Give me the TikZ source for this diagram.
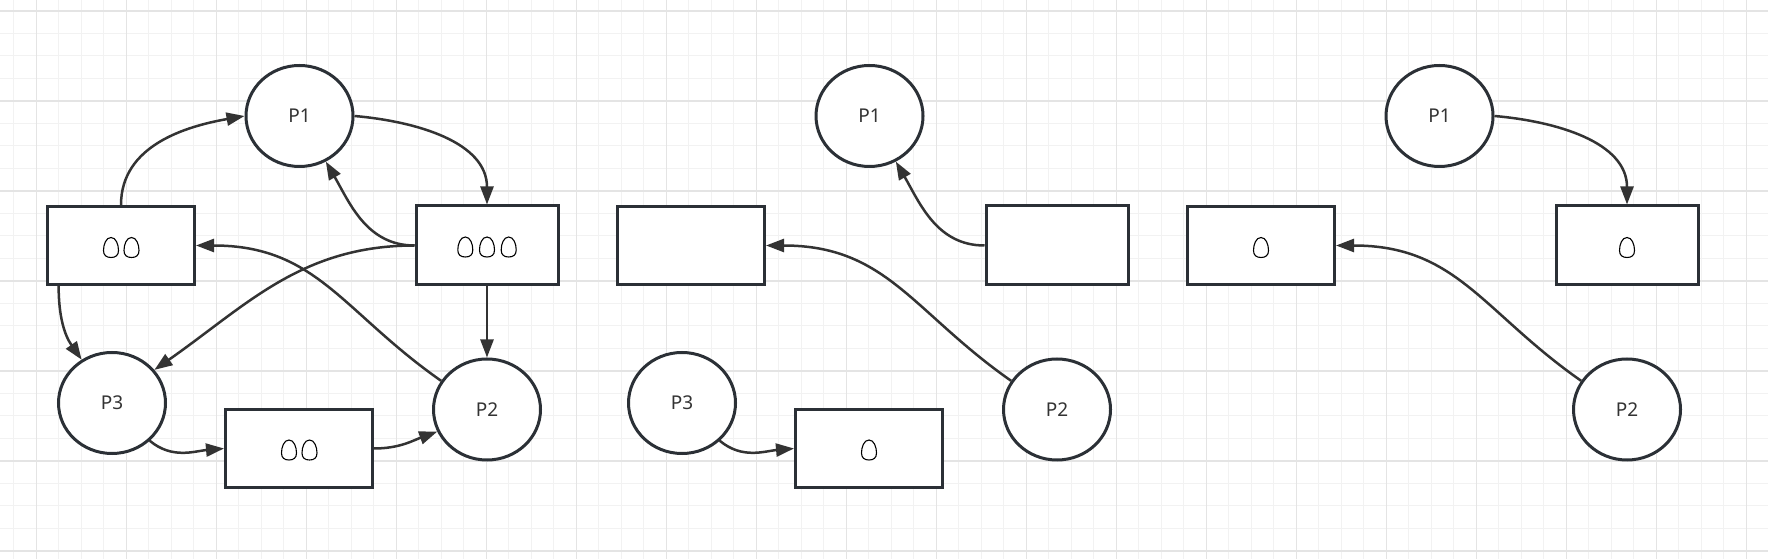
\documentclass[tikz,border=0pt]{standalone}
\usepackage{fontspec}
\setmainfont{Noto Sans}
\usetikzlibrary{arrows.meta,shapes.geometric}
\definecolor{gridminor}{HTML}{F2F2F2}
\definecolor{gridmajor}{HTML}{E4E4E4}
\definecolor{strokec}{HTML}{2B3036}
\definecolor{connc}{HTML}{333333}
\definecolor{txtc}{HTML}{333333}
\tikzset{
  placenode/.style={ellipse, draw=strokec, line width=3pt, fill=white,
    minimum width=107pt, minimum height=101pt, inner sep=0pt, text=txtc,
    font=\fontsize{19}{22}\selectfont},
  transnode/.style={rectangle, draw=strokec, line width=3pt, fill=white,
    minimum width=147pt, minimum height=78pt, inner sep=0pt},
  transrnode/.style={transnode, minimum width=142pt, minimum height=79pt},
  arcline/.style={draw=connc, line width=2.5pt, -{Triangle[length=18pt,width=13pt]}},
  minorline/.style={draw=gridminor, line width=1pt},
  majorline/.style={draw=gridmajor, line width=1.6pt},
  egg/.pic={
    \draw[line width=1.1pt, fill=white] (0,10) .. controls (5,10) and (7.5,3) .. (7.5,-3)
      .. controls (7.5,-8) and (4.5,-10) .. (0,-10)
      .. controls (-4.5,-10) and (-7.5,-8) .. (-7.5,-3)
      .. controls (-7.5,3) and (-5,10) .. (0,10) -- cycle;
  }
}
\begin{document}
\begin{tikzpicture}[x=1pt,y=1pt]
\useasboundingbox (0,0) rectangle (1768,559);
\fill[white] (0,0) rectangle (1768,559);
% grid
\foreach \i in {0,...,78} \draw[minorline] ({13.9+22.5*\i},0) -- ({13.9+22.5*\i},559);
\foreach \i in {0,...,24} \draw[minorline] (0,{548-22.5*\i}) -- (1768,{548-22.5*\i});
\foreach \i in {0,...,19} \draw[majorline] ({36.4+90*\i},0) -- ({36.4+90*\i},559);
\foreach \i in {0,...,6} \draw[majorline] (0,{548-90*\i}) -- (1768,{548-90*\i});

% ---------- diagram A ----------
\node[placenode] (A-P1) at (299.5,443) {P1};
\node[transnode] (A-TL) at (121,313.5) {};
\node[transrnode] (A-TR) at (487,313.5) {};
\node[placenode] (A-P3) at (112,156) {P3};
\node[transnode] (A-TB) at (299,110.5) {};
\node[placenode] (A-P2) at (487,149.5) {P2};
\pic at (111,311.5) {egg};
\pic at (131.5,311.5) {egg};
\pic at (465.3,312) {egg};
\pic at (487,312) {egg};
\pic at (508.7,312) {egg};
\pic at (289,109) {egg};
\pic at (309.5,109) {egg};
\draw[arcline] (A-TL.north) to[out=90,in=190] (A-P1.west);
\draw[arcline] (A-P1.east) to[out=-5,in=90] (A-TR.north);
\draw[arcline] (A-TR.west) to[out=180,in=-60] (A-P1.-60);
\draw[arcline] (A-TR.west) to[out=180,in=35] (A-P3.38);
\draw[arcline] (A-P2.148) to[out=145,in=0,looseness=1.1] (A-TL.east);
\draw[arcline] (A-TR.south) -- (A-P2.north);
\draw[arcline] (A-TL.213) to[out=-90,in=125] (A-P3.125);
\draw[arcline] (A-P3.-45) to[out=-40,in=185] (A-TB.west);
\draw[arcline] (A-TB.east) to[out=0,in=200] (A-P2.204);

% ---------- diagram B ----------
\node[placenode] (B-P1) at (869.5,443) {P1};
\node[transnode] (B-TL) at (691,313.5) {};
\node[transrnode] (B-TR) at (1057,313.5) {};
\node[placenode] (B-P3) at (682,156) {P3};
\node[transnode] (B-TB) at (869,110.5) {};
\node[placenode] (B-P2) at (1057,149.5) {P2};
\pic at (869,109) {egg};
\draw[arcline] (B-TR.west) to[out=180,in=-60] (B-P1.-60);
\draw[arcline] (B-P2.148) to[out=145,in=0,looseness=1.1] (B-TL.east);
\draw[arcline] (B-P3.-45) to[out=-40,in=185] (B-TB.west);

% ---------- diagram C ----------
\node[placenode] (C-P1) at (1439.5,443) {P1};
\node[transnode] (C-TL) at (1261,313.5) {};
\node[transrnode] (C-TR) at (1627,313.5) {};
\node[placenode] (C-P2) at (1627,149.5) {P2};
\pic at (1261,311.5) {egg};
\pic at (1627,311.5) {egg};
\draw[arcline] (C-P1.east) to[out=-5,in=90] (C-TR.north);
\draw[arcline] (C-P2.148) to[out=145,in=0,looseness=1.1] (C-TL.east);
\end{tikzpicture}
\end{document}
